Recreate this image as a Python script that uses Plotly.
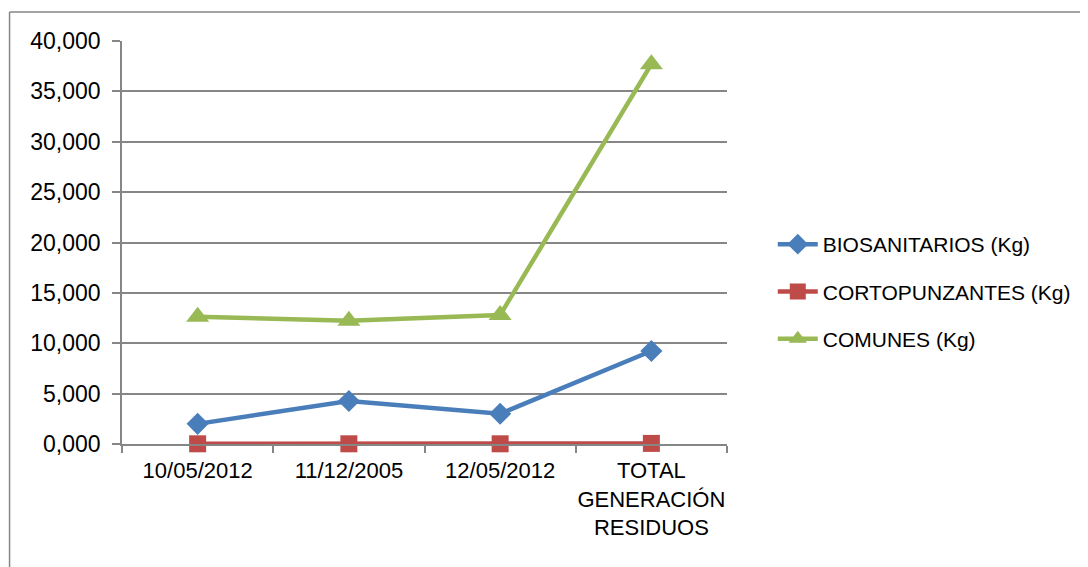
import plotly.graph_objects as go

categories = ["10/05/2012", "11/12/2005", "12/05/2012", "TOTAL<br>GENERACIÓN<br>RESIDUOS"]
biosanitarios = [2.0, 4.27, 3.0, 9.23]
cortopunzantes = [0.02, 0.02, 0.02, 0.06]
comunes = [12.63, 12.24, 12.8, 37.7]
series_names = ["BIOSANITARIOS (Kg)", "CORTOPUNZANTES (Kg)", "COMUNES (Kg)"]
y_ticks = [0, 5, 10, 15, 20, 25, 30, 35, 40]

FONT = "Liberation Sans, Arial, sans-serif"
OFF = 8  # page body margin
W, H = 1088 - OFF, 567 - OFF
L, R, T, B = 122 - OFF, 730 - OFF, 41 - OFF, 444 - OFF

fig = go.Figure()
styles = [
    ("#4A7EBB", "diamond", 17),
    ("#BE4B48", "square", 17),
    ("#98B954", "triangle-up", 20),
]
for i, (name, vals) in enumerate(zip(series_names, [biosanitarios, cortopunzantes, comunes])):
    color, sym, size = styles[i]
    fig.add_trace(go.Scatter(
        x=categories, y=vals, name=name, mode="lines+markers",
        line=dict(color=color, width=4.5),
        marker=dict(symbol=sym, size=size, color=color, line=dict(width=0)),
        legendgroup=f"g{i}", cliponaxis=False,
    ))

def px2x(px):
    return (px - OFF - L) / (R - L)

def py2y(py):
    return (B - (py - OFF)) / (B - T)

fig.update_layout(
    width=W, height=H,
    margin=dict(l=L, r=W - R, t=T, b=H - B, pad=0),
    paper_bgcolor="white", plot_bgcolor="white",
    separators=",.",
    font=dict(family=FONT, size=21, color="#000000"),
    showlegend=True,
    legend=dict(
        x=px2x(776), y=py2y(224), xanchor="left", yanchor="top",
        traceorder="grouped", tracegroupgap=17,
        font=dict(family=FONT, size=21, color="#000000"),
        bgcolor="rgba(0,0,0,0)", itemwidth=40,
    ),
    xaxis=dict(
        type="category", tickson="boundaries", showgrid=False,
        showline=True, linecolor="#868686", linewidth=1.5,
        ticks="outside", ticklen=7, tickcolor="#868686", tickwidth=1.5,
        range=[-0.5, 3.5], fixedrange=True, tickangle=0, automargin=False,
        ticklabelstandoff=6,
        tickfont=dict(family=FONT, size=22),
    ),
    yaxis=dict(
        range=[0, 40], tickvals=y_ticks, tickformat=".3f",
        showgrid=True, gridcolor="#868686", gridwidth=1.5,
        showline=True, linecolor="#868686", linewidth=1.5,
        ticks="outside", ticklen=8, tickcolor="#868686", tickwidth=1.5,
        zeroline=False, ticklabelstandoff=7, automargin=False,
        tickfont=dict(family=FONT, size=23),
    ),
    shapes=[
        dict(type="line", xref="paper", yref="paper",
             x0=px2x(9), x1=px2x(1095), y0=py2y(12), y1=py2y(12),
             line=dict(color="#868686", width=1.5)),
        dict(type="line", xref="paper", yref="paper",
             x0=px2x(9), x1=px2x(9), y0=py2y(12), y1=py2y(575),
             line=dict(color="#868686", width=1.5)),
    ],
)

fig.write_html("out.html")
